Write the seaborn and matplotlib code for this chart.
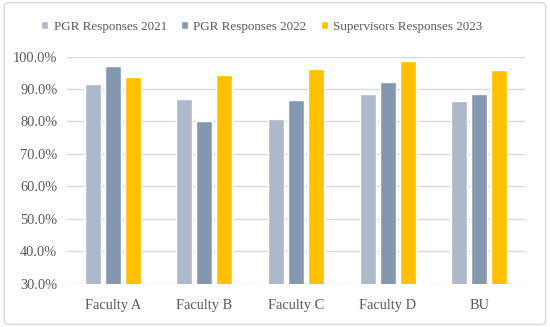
import matplotlib
matplotlib.use("Agg")
import matplotlib.pyplot as plt
import seaborn as sns
import pandas as pd
from matplotlib.patches import FancyBboxPatch
from matplotlib.ticker import FuncFormatter

categories = ["Faculty A", "Faculty B", "Faculty C", "Faculty D", "BU"]
series_names = ["PGR Responses 2021", "PGR Responses 2022", "Supervisors Responses 2023"]
pgr_2021 = [91.4, 86.9, 80.7, 88.4, 86.2]
pgr_2022 = [97.0, 80.0, 86.7, 92.2, 88.4]
sup_2023 = [93.7, 94.4, 96.1, 98.5, 95.8]
colors = ["#ADB9CA", "#8497B0", "#FFC000"]

rows = []
for name, vals in zip(series_names, [pgr_2021, pgr_2022, sup_2023]):
    for c, v in zip(categories, vals):
        rows.append({"cat": c, "series": name, "value": v})
df = pd.DataFrame(rows)

sns.set_theme(style="white")
plt.rcParams['font.family'] = ['Liberation Serif', 'DejaVu Serif']

fig = plt.figure(figsize=(5.5, 3.27), dpi=100)
ax = fig.add_axes([0.1218, 0.1324, 0.8327, 0.6946])

sns.barplot(data=df, x="cat", y="value", hue="series", order=categories,
            hue_order=series_names, palette=colors, width=0.655, gap=0.2,
            saturation=1, ax=ax, legend=True)

ax.set_ylim(30, 100)
ax.set_yticks(range(30, 101, 10))
ax.yaxis.set_major_formatter(FuncFormatter(lambda v, p: f"{v:.1f}%"))
ax.set_xlim(-0.5, 4.5)
ax.grid(axis="y", color="#D9D9D9", linewidth=1)
ax.set_axisbelow(True)
for s in ax.spines.values():
    s.set_visible(False)
ax.set_xlabel("")
ax.set_ylabel("")
ax.tick_params(axis="both", length=0, labelsize=10.4, colors="#595959")
ax.tick_params(axis="x", pad=11)
ax.tick_params(axis="y", pad=7)

handles, labels = ax.get_legend_handles_labels()
ax.get_legend().remove()
fig.legend(handles, labels, loc="center", bbox_to_anchor=(0.476, 1 - 27 / 327), ncol=3,
           frameon=False, fontsize=9.4, handlelength=0.55, handleheight=0.55,
           handletextpad=0.4, columnspacing=1.1, labelcolor="#595959")

border = FancyBboxPatch((0.008, 0.008), 0.984, 0.984, boxstyle="round,pad=0,rounding_size=0.01",
                        transform=fig.transFigure, facecolor="none", edgecolor="#D9D9D9",
                        linewidth=1, zorder=-1)
fig.patches.append(border)

fig.savefig("out.png", dpi=100, facecolor="white")
